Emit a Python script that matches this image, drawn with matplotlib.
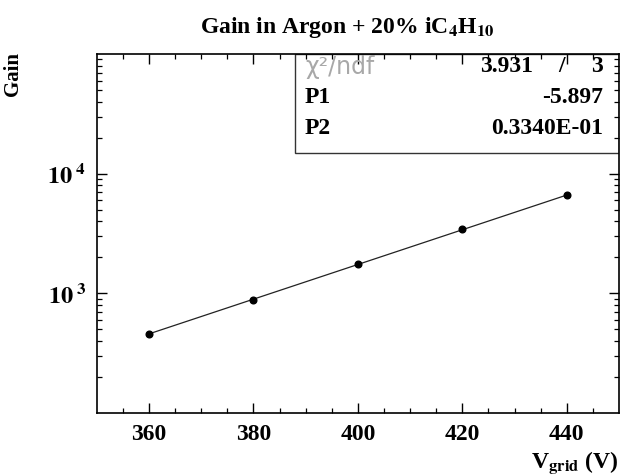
import matplotlib
matplotlib.use("Agg")
import matplotlib.pyplot as plt
import numpy as np
from matplotlib.patches import Rectangle

# Data
v_grid = [360, 380, 400, 420, 440]
gain = [461, 886, 1761, 3467, 6591]
# Fit parameters (exponential fit: exp(P1 + P2*V))
p1 = -5.897
p2 = 0.03340
chi2 = 3.931
ndf = 3
x_ticks = [360, 380, 400, 420, 440]
y_ticks = [1e3, 1e4]
y_ticklabels = [r'$\mathbf{10}^{\;\mathbf{3}}$', r'$\mathbf{10}^{\;\mathbf{4}}$']

plt.rcParams['mathtext.fontset'] = 'stix'
serif = 'Liberation Serif'

fig = plt.figure(figsize=(6.21, 4.75), dpi=100)
ax = fig.add_axes([96.7/621, 1-413/475, (619-96.7)/621, (413-54)/475])

ax.set_yscale('log')
ax.set_xlim(350, 450)
ax.set_ylim(1e2, 1e5)

vfit = np.linspace(v_grid[0], v_grid[-1], 200)
ax.plot(vfit, np.exp(p1 + p2*vfit), color='#222222', lw=0.9, zorder=2)
ax.plot(v_grid, gain, 'o', color='black', ms=4.8, zorder=3)

ax.set_xticks(x_ticks)
ax.set_xticklabels([str(v) for v in x_ticks], fontfamily=serif, fontweight='bold', fontsize=17)
ax.set_xticks(np.arange(355, 450, 5), minor=True)
ax.set_yticks(y_ticks)
ax.set_yticklabels(y_ticklabels, fontsize=17.5)

ax.tick_params(which='both', direction='in', top=True, right=True, color='black')
ax.tick_params(which='major', length=7.5, width=1.0)
ax.tick_params(which='minor', length=3.8, width=0.9)
ax.tick_params(axis='x', which='major', pad=8)
ax.tick_params(axis='y', which='major', pad=8)
for s in ax.spines.values():
    s.set_linewidth(1.2)

# Stats box
box = Rectangle((0.3797, 0.7242), 1-0.3797, 1-0.7242, transform=ax.transAxes,
                facecolor='white', edgecolor='#333333', lw=1.0, zorder=1)
ax.add_patch(box)
xl = (305-96.7)/522.3
xr = (603-96.7)/522.3
def yrow(py):
    return (413-py)/359.0
fs = 17
ax.text(xl, yrow(67), 'χ²/ndf', transform=ax.transAxes, ha='left', va='center',
        fontsize=17, color='#a8a8a8', fontfamily='DejaVu Sans', zorder=4)
ax.text((533-96.7)/522.3, yrow(67), f'{chi2:.3f}', transform=ax.transAxes, ha='right', va='center',
        fontsize=fs, fontfamily=serif, fontweight='bold', zorder=4)
ax.text((562-96.7)/522.3, yrow(67), '/', transform=ax.transAxes, ha='center', va='center',
        fontsize=fs, fontfamily=serif, fontweight='bold', zorder=4)
ax.text(xr, yrow(67), f'{ndf}', transform=ax.transAxes, ha='right', va='center',
        fontsize=fs, fontfamily=serif, fontweight='bold', zorder=4)
ax.text(xl, yrow(98), 'P1', transform=ax.transAxes, ha='left', va='center',
        fontsize=fs, fontfamily=serif, fontweight='bold', zorder=4)
ax.text(xr, yrow(98), f'{p1:.3f}', transform=ax.transAxes, ha='right', va='center',
        fontsize=fs, fontfamily=serif, fontweight='bold', zorder=4)
ax.text(xl, yrow(129), 'P2', transform=ax.transAxes, ha='left', va='center',
        fontsize=fs, fontfamily=serif, fontweight='bold', zorder=4)
ax.text(xr, yrow(129), '0.3340E-01', transform=ax.transAxes, ha='right', va='center',
        fontsize=fs, fontfamily=serif, fontweight='bold', zorder=4)

# Title and axis labels
fig.text(347/621, 1-28/475, r'Gain in Argon + 20% iC$_\mathbf{4}$H$_\mathbf{10}$', ha='center', va='center',
         fontsize=17, fontfamily=serif, fontweight='bold')
fig.text(13/621, 1-52/475, 'Gain', rotation=90, ha='center', va='top',
         fontsize=15, fontfamily=serif, fontweight='bold')
fig.text(619/621, 1-463/475, r'V$_\mathbf{grid}$ (V)', ha='right', va='center',
         fontsize=17, fontfamily=serif, fontweight='bold')

fig.savefig('out.png', dpi=100)
